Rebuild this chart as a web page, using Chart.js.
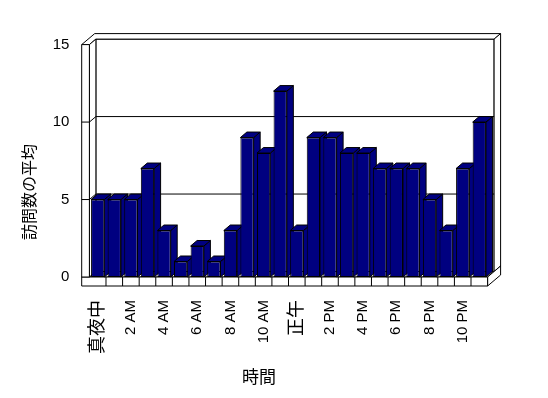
<!DOCTYPE html>
<html>
<head>
<meta charset="utf-8">
<script src="https://cdn.jsdelivr.net/npm/chart.js@4/dist/chart.umd.min.js"></script>
<style>
    html, body { margin: 0; padding: 0; background: #fff; }
    canvas { display: block; }
</style>
</head>
<body>
<canvas id="chart" width="548" height="398"></canvas>
<script>
// Data
const hours = ['真夜中', '1 AM', '2 AM', '3 AM', '4 AM', '5 AM', '6 AM', '7 AM', '8 AM', '9 AM', '10 AM', '11 AM',
               '正午', '1 PM', '2 PM', '3 PM', '4 PM', '5 PM', '6 PM', '7 PM', '8 PM', '9 PM', '10 PM', '11 PM'];
const visits = [5, 5, 5, 7, 3, 1, 2, 1, 3, 9, 8, 12, 3, 9, 9, 8, 8, 7, 7, 7, 5, 3, 7, 10];
const yTicks = [0, 5, 10, 15];
const yTitle = '訪問数の平均';
const xTitle = '時間';

const NAVY = '#000080';
const FONT = "'Liberation Sans', 'Noto Sans CJK JP', sans-serif";
const CJK = "'Noto Sans CJK JP', sans-serif";

// depth of the 3D box (back is up and to the right)
const DX = 6.5, DY = -5.5;
const WALL = 7.7, FLOOR = 9;

function poly(ctx, pts) {
    ctx.beginPath();
    pts.forEach(([px, py], i) => i ? ctx.lineTo(px, py) : ctx.moveTo(px, py));
    ctx.closePath();
    ctx.fill();
    ctx.stroke();
}

const box3d = {
    id: 'box3d',
    beforeDatasetsDraw(chart) {
        const { ctx, chartArea: a, scales: { x, y } } = chart;
        const L = a.left, R = a.right;
        const T = y.getPixelForValue(yTicks[yTicks.length - 1]);
        const B = y.getPixelForValue(0);

        ctx.save();
        ctx.lineWidth = 1;
        ctx.strokeStyle = '#000';
        ctx.fillStyle = '#fff';

        // back wall
        poly(ctx, [[L + DX, T + DY], [R + DX, T + DY], [R + DX, B + DY], [L + DX, B + DY]]);
        // top edge of walls
        poly(ctx, [[L - WALL, T], [L, T], [L + DX, T + DY], [R + DX, T + DY],
                   [R + 2 * DX, T + 2 * DY], [L - WALL + 2 * DX, T + 2 * DY]]);
        // right edge of back wall
        poly(ctx, [[R + DX, T + DY], [R + 2 * DX, T + 2 * DY], [R + 2 * DX, B + 2 * DY], [R + DX, B + DY]]);
        // floor top
        poly(ctx, [[L, B], [R, B], [R + DX, B + DY], [L + DX, B + DY]]);
        // floor right side
        poly(ctx, [[R, B], [R + 2 * DX, B + 2 * DY], [R + 2 * DX, B + 2 * DY + FLOOR], [R, B + FLOOR]]);
        // floor front
        poly(ctx, [[L - WALL, B], [R, B], [R, B + FLOOR], [L - WALL, B + FLOOR]]);
        // left wall inner face + front
        poly(ctx, [[L, T], [L + DX, T + DY], [L + DX, B + DY], [L, B]]);
        poly(ctx, [[L - WALL, T], [L, T], [L, B], [L - WALL, B]]);

        // gridlines
        ctx.beginPath();
        yTicks.slice(1, -1).forEach(v => {
            const py = y.getPixelForValue(v);
            ctx.moveTo(L - WALL, py);
            ctx.lineTo(L, py);
            ctx.lineTo(L + DX, py + DY);
            ctx.lineTo(R + DX, py + DY);
        });
        // category dividers on floor front
        for (let i = 1; i < hours.length; i++) {
            const px = (x.getPixelForValue(i - 1) + x.getPixelForValue(i)) / 2;
            ctx.moveTo(px, B);
            ctx.lineTo(px, B + FLOOR);
        }
        ctx.stroke();

        // bar tops and sides (fronts are drawn by Chart.js)
        ctx.fillStyle = NAVY;
        chart.getDatasetMeta(0).data.forEach(bar => {
            const { x: cx, y: top, base, width } = bar.getProps(['x', 'y', 'base', 'width'], true);
            const xl = cx - width / 2, xr = cx + width / 2;
            poly(ctx, [[xr, top], [xr + DX, top + DY], [xr + DX, base + DY], [xr, base]]);
            poly(ctx, [[xl, top], [xr, top], [xr + DX, top + DY], [xl + DX, top + DY]]);
        });
        ctx.restore();
    },
    afterDraw(chart) {
        const { ctx } = chart;
        ctx.save();
        ctx.fillStyle = '#000';
        ctx.textAlign = 'center';
        ctx.textBaseline = 'middle';
        ctx.font = '16px ' + CJK;
        ctx.translate(29, 192);
        ctx.rotate(-Math.PI / 2);
        ctx.fillText(yTitle, 0, 0);
        ctx.restore();

        ctx.save();
        ctx.fillStyle = '#000';
        ctx.textAlign = 'center';
        ctx.textBaseline = 'middle';
        ctx.font = '17px ' + CJK;
        ctx.fillText(xTitle, 259, 377);
        ctx.restore();
    }
};

new Chart(document.getElementById('chart'), {
    type: 'bar',
    data: {
        labels: hours,
        datasets: [{
            data: visits,
            backgroundColor: NAVY,
            borderColor: '#000',
            borderWidth: 1,
            borderSkipped: false,
            barPercentage: 0.8,
            categoryPercentage: 1
        }]
    },
    options: {
        responsive: false,
        animation: false,
        layout: { padding: { left: 0, right: 60.4, top: 44.6, bottom: 0 } },
        plugins: {
            legend: { display: false },
            tooltip: { enabled: false }
        },
        scales: {
            x: {
                grid: { display: false, drawTicks: false },
                border: { display: false },
                afterFit: scale => { scale.height = 121; },
                ticks: {
                    autoSkip: false,
                    minRotation: 90,
                    maxRotation: 90,
                    padding: 23,
                    color: '#000',
                    callback: (v, i) => i % 2 === 0 ? hours[i] : '',
                    font: c => ({ family: FONT, size: /[^\x00-\x7f]/.test(hours[c.index] || '') ? 18 : 15 })
                }
            },
            y: {
                min: 0,
                max: 15,
                grid: { display: false, drawTicks: false },
                border: { display: false },
                afterFit: scale => { scale.width = 89.4; },
                ticks: {
                    stepSize: 5,
                    padding: 20,
                    color: '#000',
                    font: { family: FONT, size: 15 }
                }
            }
        }
    },
    plugins: [box3d]
});
</script>
</body>
</html>
